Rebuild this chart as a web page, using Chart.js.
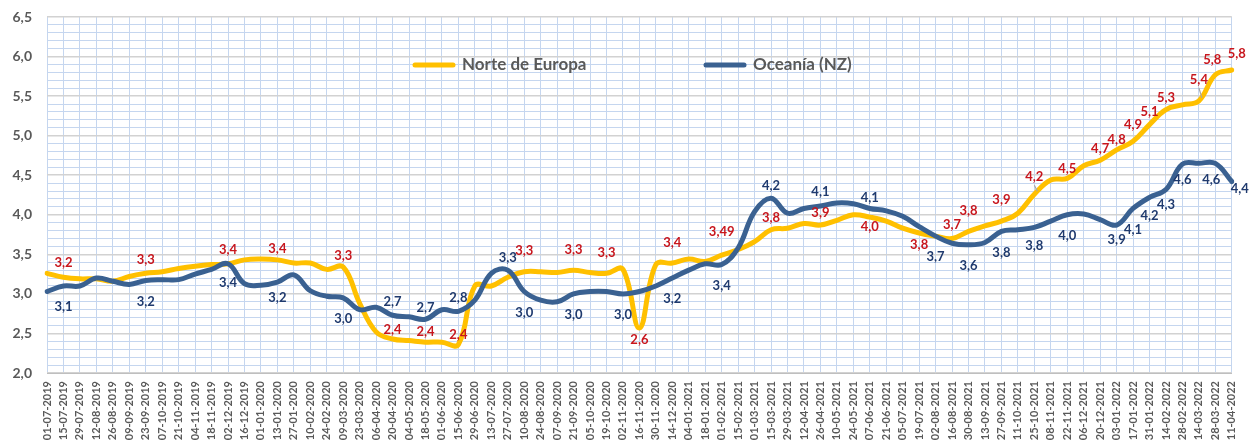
<!DOCTYPE html>
<html>
<head>
<meta charset="utf-8">
<script src="https://cdn.jsdelivr.net/npm/chart.js@4.4.1/dist/chart.umd.min.js"></script>
<style>
  html, body { margin: 0; padding: 0; background: #fff; }
  #wrap { width: 1253px; height: 448px; position: relative; }
</style>
</head>
<body>
<div id="wrap"><canvas id="chart"></canvas></div>
<script>
// fechas (cada dos semanas)
const labels = [
  "01-07-2019","15-07-2019","29-07-2019","12-08-2019","26-08-2019","09-09-2019","23-09-2019","07-10-2019",
  "21-10-2019","04-11-2019","18-11-2019","02-12-2019","16-12-2019","01-01-2020","13-01-2020","27-01-2020",
  "10-02-2020","24-02-2020","09-03-2020","23-03-2020","06-04-2020","20-04-2020","04-05-2020","18-05-2020",
  "01-06-2020","15-06-2020","29-06-2020","13-07-2020","27-07-2020","10-08-2020","24-08-2020","07-09-2020",
  "21-09-2020","05-10-2020","19-10-2020","02-11-2020","16-11-2020","30-11-2020","14-12-2020","04-01-2021",
  "18-01-2021","01-02-2021","15-02-2021","01-03-2021","15-03-2021","29-03-2021","12-04-2021","26-04-2021",
  "10-05-2021","24-05-2021","07-06-2021","21-06-2021","05-07-2021","19-07-2021","02-08-2021","16-08-2021",
  "30-08-2021","13-09-2021","27-09-2021","11-10-2021","25-10-2021","08-11-2021","22-11-2021","06-12-2021",
  "20-12-2021","03-01-2022","17-01-2022","31-01-2022","14-02-2022","28-02-2022","14-03-2022","28-03-2022",
  "11-04-2022"
];

const norteEuropa = [
  3.26,3.21,3.19,3.19,3.16,3.22,3.26,3.28,3.32,3.35,3.37,3.38,3.43,3.44,3.43,3.39,
  3.39,3.31,3.34,2.88,2.52,2.43,2.41,2.39,2.39,2.36,3.10,3.10,3.21,3.28,3.28,3.27,
  3.30,3.27,3.26,3.31,2.57,3.37,3.39,3.44,3.41,3.49,3.56,3.66,3.81,3.83,3.89,3.87,
  3.93,4.00,3.97,3.92,3.83,3.77,3.73,3.70,3.79,3.86,3.92,4.02,4.26,4.44,4.46,4.62,
  4.69,4.82,4.93,5.14,5.33,5.39,5.44,5.77,5.83
];

const oceaniaNZ = [
  3.03,3.10,3.10,3.20,3.16,3.12,3.17,3.18,3.18,3.25,3.31,3.38,3.13,3.11,3.15,3.24,
  3.04,2.97,2.95,2.80,2.83,2.73,2.71,2.68,2.80,2.78,2.92,3.26,3.30,3.03,2.92,2.90,
  3.00,3.03,3.03,3.00,3.03,3.10,3.20,3.30,3.38,3.37,3.58,4.04,4.21,4.02,4.08,4.11,
  4.15,4.14,4.08,4.05,3.98,3.85,3.73,3.64,3.62,3.65,3.79,3.81,3.84,3.92,4.00,4.01,
  3.94,3.87,4.08,4.22,4.32,4.64,4.65,4.65,4.42
];

// etiquetas de datos [índice, texto]
const norteLabelTexts = [
  [1,"3,2"],[6,"3,3"],[11,"3,4"],[14,"3,4"],[18,"3,3"],[21,"2,4"],[23,"2,4"],[25,"2,4"],
  [29,"3,3"],[32,"3,3"],[34,"3,3"],[36,"2,6"],[38,"3,4"],[41,"3,49"],[44,"3,8"],[47,"3,9"],
  [50,"4,0"],[53,"3,8"],[55,"3,7"],[56,"3,8"],[58,"3,9"],[60,"4,2"],[62,"4,5"],[64,"4,7"],
  [65,"4,8"],[66,"4,9"],[67,"5,1"],[68,"5,3"],[70,"5,4"],[71,"5,8"],[72,"5,8"]
];
const oceaniaLabelTexts = [
  [1,"3,1"],[6,"3,2"],[11,"3,4"],[14,"3,2"],[18,"3,0"],[21,"2,7"],[23,"2,7"],[25,"2,8"],
  [28,"3,3"],[29,"3,0"],[32,"3,0"],[35,"3,0"],[38,"3,2"],[41,"3,4"],[44,"4,2"],[47,"4,1"],
  [50,"4,1"],[54,"3,7"],[56,"3,6"],[58,"3,8"],[60,"3,8"],[62,"4,0"],[65,"3,9"],[66,"4,1"],
  [67,"4,2"],[68,"4,3"],[69,"4,6"],[71,"4,6"],[72,"4,4"]
];

const yMin = 2.0, yMax = 6.5, yStep = 0.1;

// colocación de etiquetas (px respecto al punto): [dx, dy]
const norteOffsets = {14:[0,-11],18:[0,-11],21:[0,-9],23:[0,-10],25:[0,-10],29:[0,-21],32:[0,-20],
  34:[0,-21],36:[0,12],38:[0,-20],41:[0,-23],44:[0,-12],47:[0,-12],50:[0,10],53:[0,12],56:[0,-21],
  58:[0,-21],60:[0,-17],62:[0,-10],64:[0,-11],65:[0,-10],66:[0,-16],67:[0,-13],68:[0,-12],70:[0,-21],
  71:[-3,-15],72:[5,-16]};
const oceaniaOffsets = {11:[0,19],14:[0,16],21:[0,-13],23:[0,-11],25:[0,-13],28:[0,-12],44:[0,-12],
  47:[0,-14],50:[0,-11],60:[0,18],65:[0,15],67:[0,18],68:[0,15],69:[0,16],71:[-4,16],72:[8,7]};
const leaderNorte = [60, 70];

const YELLOW = "#FFC000", BLUE = "#3A6191";
const RED_TXT = "#C8161D", BLUE_TXT = "#1F3A6E", GRAY_TXT = "#595959";
const FONT = "Lato";

const isMajor = v => Math.abs(v * 2 - Math.round(v * 2)) < 1e-6;

const pointLabels = {
  id: "pointLabels",
  afterDatasetsDraw(chart){
    const c = chart.ctx;
    const sets = [
      {ds:0, items:norteLabelTexts, color:RED_TXT, def:-14, offs:norteOffsets},
      {ds:1, items:oceaniaLabelTexts, color:BLUE_TXT, def:21, offs:oceaniaOffsets}
    ];
    c.save();
    c.font = "bold 13px " + FONT;
    c.textAlign = "center";
    c.textBaseline = "middle";
    for(const s of sets){
      const meta = chart.getDatasetMeta(s.ds);
      for(const [i, txt] of s.items){
        const p = meta.data[i];
        const [dx, dy] = s.offs[i] || [0, s.def];
        const x = p.x + dx, y = p.y + dy;
        c.fillStyle = s.color;
        c.fillText(txt, x, y);
        if(s.ds === 0 && leaderNorte.includes(i)){
          c.strokeStyle = "#A6A6A6";
          c.lineWidth = 1.2;
          c.beginPath();
          c.moveTo(x, y + 8);
          c.lineTo(x + 3, p.y - 3);
          c.stroke();
        }
      }
    }
    c.restore();
  }
};

const legendBox = {
  id: "legendBox",
  afterDraw(chart){
    const c = chart.ctx;
    const items = [
      {x:415, color:YELLOW, text:"Norte de Europa"},
      {x:706, color:BLUE, text:"Oceanía (NZ)"}
    ];
    const y = 65;
    c.save();
    c.font = "bold 17px " + FONT;
    c.textBaseline = "middle";
    c.textAlign = "left";
    for(const it of items){
      c.strokeStyle = it.color;
      c.lineWidth = 5;
      c.lineCap = "round";
      c.beginPath();
      c.moveTo(it.x, y);
      c.lineTo(it.x + 38, y);
      c.stroke();
      c.fillStyle = GRAY_TXT;
      c.fillText(it.text, it.x + 47, y);
    }
    c.restore();
  }
};

new Chart(document.getElementById("chart").getContext("2d"), {
  type: "line",
  data: {
    labels,
    datasets: [
      {label:"Norte de Europa", data:norteEuropa, borderColor:YELLOW, borderWidth:5,
       tension:0.4, pointRadius:0, order:2, borderCapStyle:"round"},
      {label:"Oceanía (NZ)", data:oceaniaNZ, borderColor:BLUE, borderWidth:5,
       tension:0.4, pointRadius:0, order:1, borderCapStyle:"round"}
    ]
  },
  options: {
    responsive:true, maintainAspectRatio:false, animation:false,
    layout:{padding:{top:17, right:15, left:0, bottom:0}},
    plugins:{legend:{display:false}, tooltip:{enabled:false}},
    scales:{
      x:{
        offset:false,
        grid:{color:"#C5D6EF", lineWidth:1, drawTicks:false},
        border:{color:"#BFBFBF", width:1},
        ticks:{autoSkip:false, minRotation:90, maxRotation:90, padding:8,
               color:GRAY_TXT, font:{family:FONT, size:11, weight:"bold"}},
        afterFit: s => { s.height = 75; s.paddingTop = 0; s.paddingBottom = 0; }
      },
      y:{
        min:yMin, max:yMax,
        grid:{
          color: c => isMajor(c.tick.value) ? "#D2D2D2" : "#C5D6EF",
          lineWidth: c => isMajor(c.tick.value) ? 1.5 : 1,
          drawTicks:false
        },
        border:{display:false},
        ticks:{stepSize:yStep, autoSkip:false, padding:15, color:GRAY_TXT,
               font:{family:FONT, size:14, weight:"bold"},
               callback: v => isMajor(v) ? v.toFixed(1).replace(".", ",") : ""},
        afterFit: s => { s.width = 47; s.paddingTop = 0; s.paddingBottom = 0; }
      }
    }
  },
  plugins:[pointLabels, legendBox]
});
</script>
</body>
</html>
